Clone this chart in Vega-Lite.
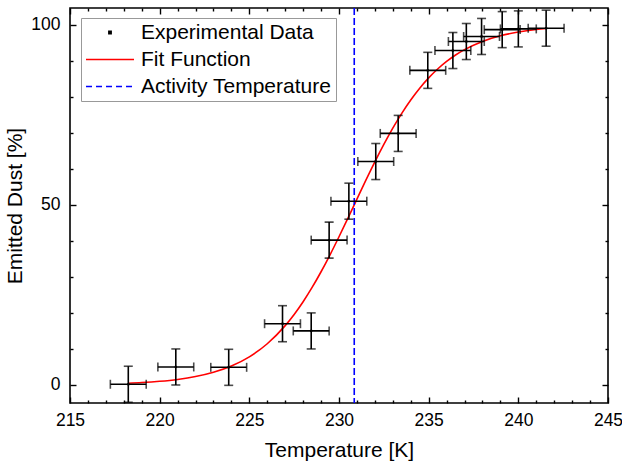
{
  "$schema": "https://vega.github.io/schema/vega-lite/v6.json",
  "width": 538,
  "height": 395,
  "autosize": {"type": "none"},
  "padding": {"left": 70, "top": 8, "right": 14, "bottom": 63},
  "background": "white",
  "config": {
    "view": {"stroke": "black", "strokeWidth": 1.6},
    "axis": {
      "grid": false,
      "domain": false,
      "tickColor": "black",
      "tickWidth": 1.4,
      "labelColor": "black",
      "titleColor": "black",
      "labelFont": "Liberation Sans",
      "titleFont": "Liberation Sans",
      "labelFontSize": 17.5,
      "titleFontSize": 21,
      "titleFontWeight": "normal",
      "labelOverlap": false,
      "labelFlush": false,
      "labelBound": false
    }
  },
  "datasets": {
    "measured": [
      {"T": 218.25, "y": 0.2, "Terr": 1.0, "yErr": 5.0},
      {"T": 220.9, "y": 5.0, "Terr": 1.0, "yErr": 5.0},
      {"T": 223.85, "y": 4.9, "Terr": 1.0, "yErr": 5.0},
      {"T": 226.85, "y": 17.0, "Terr": 1.0, "yErr": 5.0},
      {"T": 228.45, "y": 15.0, "Terr": 1.0, "yErr": 5.0},
      {"T": 229.45, "y": 40.2, "Terr": 1.0, "yErr": 5.0},
      {"T": 230.55, "y": 51.0, "Terr": 1.0, "yErr": 5.0},
      {"T": 232.05, "y": 62.0, "Terr": 1.0, "yErr": 5.0},
      {"T": 233.3, "y": 69.8, "Terr": 1.0, "yErr": 5.0},
      {"T": 234.95, "y": 87.3, "Terr": 1.0, "yErr": 5.0},
      {"T": 236.35, "y": 92.8, "Terr": 1.0, "yErr": 5.0},
      {"T": 237.1, "y": 95.3, "Terr": 1.0, "yErr": 5.0},
      {"T": 237.95, "y": 96.7, "Terr": 1.0, "yErr": 5.0},
      {"T": 239.1, "y": 98.6, "Terr": 1.0, "yErr": 5.0},
      {"T": 240.0, "y": 98.8, "Terr": 1.0, "yErr": 5.0},
      {"T": 241.55, "y": 99.0, "Terr": 1.0, "yErr": 5.0}
    ],
    "fit": [
      {"T": 218.25, "y": 0.49},
      {"T": 219, "y": 0.67},
      {"T": 220, "y": 1.02},
      {"T": 221, "y": 1.54},
      {"T": 222, "y": 2.33},
      {"T": 223, "y": 3.52},
      {"T": 224, "y": 5.26},
      {"T": 225, "y": 7.81},
      {"T": 226, "y": 11.44},
      {"T": 227, "y": 16.47},
      {"T": 227.5, "y": 19.57},
      {"T": 228, "y": 23.1},
      {"T": 228.5, "y": 27.06},
      {"T": 229, "y": 31.42},
      {"T": 229.5, "y": 36.13},
      {"T": 230, "y": 41.13},
      {"T": 230.5, "y": 46.32},
      {"T": 231, "y": 51.58},
      {"T": 231.5, "y": 56.82},
      {"T": 232, "y": 61.9},
      {"T": 232.5, "y": 66.73},
      {"T": 233, "y": 71.25},
      {"T": 233.5, "y": 75.36},
      {"T": 234, "y": 79.07},
      {"T": 234.5, "y": 82.35},
      {"T": 235, "y": 85.21},
      {"T": 235.5, "y": 87.67},
      {"T": 236, "y": 89.78},
      {"T": 236.5, "y": 91.56},
      {"T": 237, "y": 93.06},
      {"T": 238, "y": 95.33},
      {"T": 239, "y": 96.89},
      {"T": 240, "y": 97.94},
      {"T": 241, "y": 98.64},
      {"T": 241.55, "y": 98.92}
    ],
    "activity": [{"T": 230.85}]
  },
  "resolve": {"axis": {"x": "independent", "y": "independent"}},
  "layer": [
    {
      "data": {"name": "fit"},
      "mark": {"type": "line", "strokeWidth": 1.6, "interpolate": "monotone"},
      "encoding": {
        "x": {
          "field": "T", "type": "quantitative",
          "scale": {"domain": [215, 245], "nice": false, "zero": false},
          "axis": {"orient": "bottom", "values": [215, 220, 225, 230, 235, 240, 245], "tickSize": -6, "labelPadding": 14, "title": "Temperature [K]", "titlePadding": 11}
        },
        "y": {
          "field": "y", "type": "quantitative",
          "scale": {"domain": [-5, 104.6], "nice": false, "zero": false},
          "axis": {"orient": "left", "values": [0, 50, 100], "tickSize": -6, "labelPadding": 16, "title": "Emitted Dust [%]", "titlePadding": 5}
        },
        "color": {
          "datum": "Fit Function", "type": "nominal",
          "scale": {"domain": ["Experimental Data", "Fit Function", "Activity Temperature"], "range": ["black", "#ff0000", "#0000ff"]},
          "legend": {
            "orient": "none", "legendX": 11, "legendY": 10,
            "title": null,
            "labelFont": "Liberation Sans", "labelFontSize": 21, "labelColor": "black", "labelLimit": 400,
            "symbolType": "stroke", "symbolSize": 2304, "symbolStrokeWidth": 1.6,
            "clipHeight": 21, "rowPadding": 5, "labelOffset": 6, "symbolOffset": 0,
            "padding": 4, "strokeColor": "#999999", "fillColor": "white",
            "encode": {
              "symbols": {
                "update": {
                  "shape": {"signal": "datum.value === 'Experimental Data' ? 'square' : 'stroke'"},
                  "size": {"signal": "datum.value === 'Experimental Data' ? 5 : 2304"},
                  "fill": {"signal": "datum.value === 'Experimental Data' ? 'black' : 'transparent'"},
                  "strokeDash": {"signal": "datum.value === 'Activity Temperature' ? [6, 4] : [1, 0]"},
                  "strokeWidth": {"value": 1.6},
                  "opacity": {"value": 1}
                }
              }
            }
          }
        }
      }
    },
    {
      "data": {"name": "activity"},
      "mark": {"type": "rule", "strokeDash": [7, 3], "strokeWidth": 1.6},
      "encoding": {
        "x": {
          "field": "T", "type": "quantitative",
          "axis": {"orient": "top", "values": [215, 220, 225, 230, 235, 240, 245], "tickSize": -6, "labels": false, "title": null}
        },
        "color": {"datum": "Activity Temperature", "type": "nominal"}
      }
    },
    {
      "data": {"name": "measured"},
      "mark": {"type": "errorbar", "ticks": {"size": 9, "thickness": 1.6}, "thickness": 1.6, "color": "black"},
      "encoding": {
        "x": {"field": "T", "type": "quantitative", "axis": null},
        "xError": {"field": "Terr"},
        "y": {"field": "y", "type": "quantitative", "axis": null}
      }
    },
    {
      "data": {"name": "measured"},
      "mark": {"type": "errorbar", "ticks": {"size": 9, "thickness": 1.6}, "thickness": 1.6, "color": "black"},
      "encoding": {
        "x": {"field": "T", "type": "quantitative", "axis": null},
        "y": {"field": "y", "type": "quantitative", "axis": null},
        "yError": {"field": "yErr"}
      }
    },
    {
      "data": {"name": "measured"},
      "mark": {"type": "point", "shape": "square", "filled": true, "size": 5, "opacity": 1},
      "encoding": {
        "x": {
          "field": "T", "type": "quantitative",
          "axis": {"orient": "bottom", "values": [216, 217, 218, 219, 221, 222, 223, 224, 226, 227, 228, 229, 231, 232, 233, 234, 236, 237, 238, 239, 241, 242, 243, 244], "tickSize": -3, "labels": false, "title": null}
        },
        "y": {
          "field": "y", "type": "quantitative",
          "axis": {"orient": "left", "values": [10, 20, 30, 40, 60, 70, 80, 90], "tickSize": -3, "labels": false, "title": null}
        },
        "color": {"datum": "Experimental Data", "type": "nominal"}
      }
    },
    {
      "data": {"name": "measured"},
      "mark": {"type": "point", "opacity": 0},
      "encoding": {
        "x": {
          "field": "T", "type": "quantitative",
          "axis": {"orient": "top", "values": [216, 217, 218, 219, 221, 222, 223, 224, 226, 227, 228, 229, 231, 232, 233, 234, 236, 237, 238, 239, 241, 242, 243, 244], "tickSize": -3, "labels": false, "title": null}
        },
        "y": {
          "field": "y", "type": "quantitative",
          "axis": {"orient": "right", "values": [10, 20, 30, 40, 60, 70, 80, 90], "tickSize": -3, "labels": false, "title": null}
        }
      }
    },
    {
      "data": {"name": "measured"},
      "mark": {"type": "point", "opacity": 0},
      "encoding": {
        "x": {"field": "T", "type": "quantitative", "axis": null},
        "y": {
          "field": "y", "type": "quantitative",
          "axis": {"orient": "right", "values": [0, 50, 100], "tickSize": -6, "labels": false, "title": null}
        }
      }
    }
  ]
}
